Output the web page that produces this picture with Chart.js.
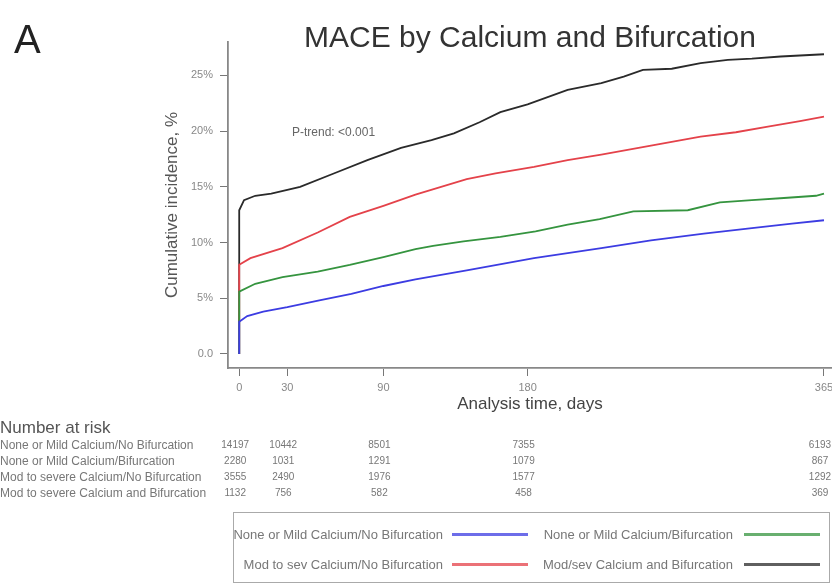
<!DOCTYPE html>
<html>
<head>
<meta charset="utf-8">
<script src="https://cdn.jsdelivr.net/npm/chart.js@4.4.1/dist/chart.umd.min.js"></script>
<style>
  html, body { margin: 0; padding: 0; background: #fff; }
  body { width: 832px; height: 586px; position: relative; overflow: hidden; font-family: "Liberation Sans", Arial, sans-serif; }
  #wrap { position: absolute; left: 0; top: 0; width: 832px; height: 586px; }
  .abs { position: absolute; white-space: nowrap; line-height: 1; }
  #panel { left: 14px; top: 19px; font-size: 40px; color: #222; }
  #title { left: 530px; top: 22px; transform: translateX(-50%); font-size: 30px; color: #333; }
  #ptrend { left: 292px; top: 126px; font-size: 12px; color: #666; }
  #riskHead { left: 0; top: 419px; font-size: 17px; color: #555; }
  .riskRow { left: 0; font-size: 12px; color: #777; }
  .riskVal { font-size: 10px; color: #777; transform: translateX(-50%); }
  #legendBox { left: 233px; top: 512px; width: 595px; height: 69px; border: 1px solid #aaa; }
  .legTxt { font-size: 13px; color: #777; }
  .legLine { height: 3px; }
</style>
</head>
<body>
<div id="wrap"><canvas id="chart" width="832" height="586"></canvas></div>
<div class="abs" id="panel">A</div>
<div class="abs" id="title">MACE by Calcium and Bifurcation</div>
<div class="abs" id="ptrend">P-trend: &lt;0.001</div>
<div class="abs" id="riskHead">Number at risk</div>
<div class="abs" id="legendBox"></div>
<div id="extras"></div>
<script>
// axis ticks
const xTicks = [0, 30, 90, 180, 365];
const yTicks = [0, 5, 10, 15, 20, 25];

// group names
const groupNames = [
  "None or Mild Calcium/No Bifurcation",
  "None or Mild Calcium/Bifurcation",
  "Mod to severe Calcium/No Bifurcation",
  "Mod to severe Calcium and Bifurcation"
];
const legendNames = [
  "None or Mild Calcium/No Bifurcation",
  "None or Mild Calcium/Bifurcation",
  "Mod to sev Calcium/No Bifurcation",
  "Mod/sev Calcium and Bifurcation"
];

// cumulative incidence curves (days, %)
const blueDays  = [0, 0, 5, 15, 30, 50, 70, 90, 110, 142, 184, 226, 257, 290, 320, 345, 365];
const bluePct   = [0, 2.9, 3.4, 3.8, 4.2, 4.8, 5.4, 6.1, 6.7, 7.5, 8.6, 9.5, 10.2, 10.8, 11.3, 11.7, 12.0];
const greenDays = [0, 0, 10, 27, 49, 69, 90, 110, 121, 140, 163, 185, 205, 225, 246, 280, 300, 320, 340, 360, 365];
const greenPct  = [0, 5.6, 6.3, 6.9, 7.4, 8.0, 8.7, 9.4, 9.7, 10.1, 10.5, 11.0, 11.6, 12.1, 12.8, 12.9, 13.6, 13.8, 14.0, 14.2, 14.4];
const redDays   = [0, 0, 7, 27, 49, 69, 90, 110, 142, 160, 184, 205, 226, 257, 288, 310, 330, 350, 365];
const redPct    = [0, 8.0, 8.6, 9.5, 10.9, 12.3, 13.3, 14.3, 15.7, 16.2, 16.8, 17.4, 17.9, 18.7, 19.5, 19.9, 20.4, 20.9, 21.3];
const blackDays = [0, 0, 3, 10, 20, 38, 59, 80, 101, 120, 134, 150, 163, 180, 205, 226, 240, 252, 270, 288, 305, 320, 338, 365];
const blackPct  = [0, 12.9, 13.8, 14.2, 14.4, 15.0, 16.2, 17.4, 18.5, 19.2, 19.8, 20.8, 21.7, 22.4, 23.7, 24.3, 24.9, 25.5, 25.6, 26.1, 26.4, 26.5, 26.7, 26.9];

// number at risk at each x tick
const riskNoneNoBif = [14197, 10442, 8501, 7355, 6193];
const riskNoneBif   = [2280, 1031, 1291, 1079, 867];
const riskModNoBif  = [3555, 2490, 1976, 1577, 1292];
const riskModBif    = [1132, 756, 582, 458, 369];

const colors = ["#3c3ce2", "#35943f", "#e4424a", "#2a2a2a"];

function pts(days, pct) {
  return days.map((d, i) => ({ x: d, y: pct[i] }));
}

const datasets = [
  { label: legendNames[0], data: pts(blueDays, bluePct), borderColor: colors[0] },
  { label: legendNames[1], data: pts(greenDays, greenPct), borderColor: colors[1] },
  { label: legendNames[2], data: pts(redDays, redPct), borderColor: colors[2] },
  { label: legendNames[3], data: pts(blackDays, blackPct), borderColor: colors[3] }
].map(d => Object.assign(d, { borderWidth: 1.8, pointRadius: 0, tension: 0, fill: false }));

const tickFont = { family: "Liberation Sans", size: 11 };
const titleFont = { family: "Liberation Sans", size: 17 };

const chart = new Chart(document.getElementById("chart").getContext("2d"), {
  type: "line",
  data: { datasets: datasets },
  options: {
    responsive: false,
    animation: false,
    devicePixelRatio: 1,
    layout: { padding: { left: 158, top: 42, right: 0, bottom: 167 } },
    plugins: { legend: { display: false }, tooltip: { enabled: false } },
    scales: {
      x: {
        type: "linear", min: -7, max: 370,
        afterBuildTicks: s => { s.ticks = xTicks.map(v => ({ value: v })); },
        afterFit: s => { s.height = 51; s.paddingLeft = 0; s.paddingRight = 0; },
        ticks: { font: tickFont, color: "#888", padding: 5, maxRotation: 0 },
        grid: { drawOnChartArea: false, tickLength: 8, color: "#777" },
        border: { color: "#888", width: 1.8 },
        title: { display: true, text: "Analysis time, days", font: titleFont, color: "#444", padding: 4 }
      },
      y: {
        min: -1.26, max: 28,
        afterBuildTicks: s => { s.ticks = yTicks.map(v => ({ value: v })); },
        afterFit: s => { s.width = 70; s.paddingTop = 0; s.paddingBottom = 0; },
        ticks: { font: tickFont, color: "#888", padding: 7, callback: v => v === 0 ? "0.0" : v + "%" },
        grid: { drawOnChartArea: false, tickLength: 8, color: "#777" },
        border: { color: "#888", width: 1.8 },
        title: { display: true, text: "Cumulative incidence, %", font: titleFont, color: "#555", padding: 4 }
      }
    }
  }
});

// number at risk table, columns placed from the chart's x scale
const extras = document.getElementById("extras");
const riskRows = [riskNoneNoBif, riskNoneBif, riskModNoBif, riskModBif];
riskRows.forEach((row, r) => {
  const mid = 445 + r * 16;
  const lab = document.createElement("div");
  lab.className = "abs riskRow";
  lab.style.top = (mid - 6) + "px";
  lab.textContent = groupNames[r];
  extras.appendChild(lab);
  row.forEach((v, i) => {
    const el = document.createElement("div");
    el.className = "abs riskVal";
    el.style.top = (mid - 5) + "px";
    el.style.left = (chart.scales.x.getPixelForValue(xTicks[i]) - 4) + "px";
    el.textContent = v;
    extras.appendChild(el);
  });
});

// legend: text right-aligned before a short line sample
const legendSlots = [
  { right: 443, line: 452, mid: 534 },
  { right: 733, line: 744, mid: 534 },
  { right: 443, line: 452, mid: 564 },
  { right: 733, line: 744, mid: 564 }
];
legendSlots.forEach((s, i) => {
  const t = document.createElement("div");
  t.className = "abs legTxt";
  t.style.right = (832 - s.right) + "px";
  t.style.top = (s.mid - 6) + "px";
  t.textContent = legendNames[i];
  extras.appendChild(t);
  const l = document.createElement("div");
  l.className = "abs legLine";
  l.style.left = s.line + "px";
  l.style.top = (s.mid - 1) + "px";
  l.style.width = "76px";
  l.style.background = colors[i];
  l.style.opacity = 0.75;
  extras.appendChild(l);
});
</script>
</body>
</html>
